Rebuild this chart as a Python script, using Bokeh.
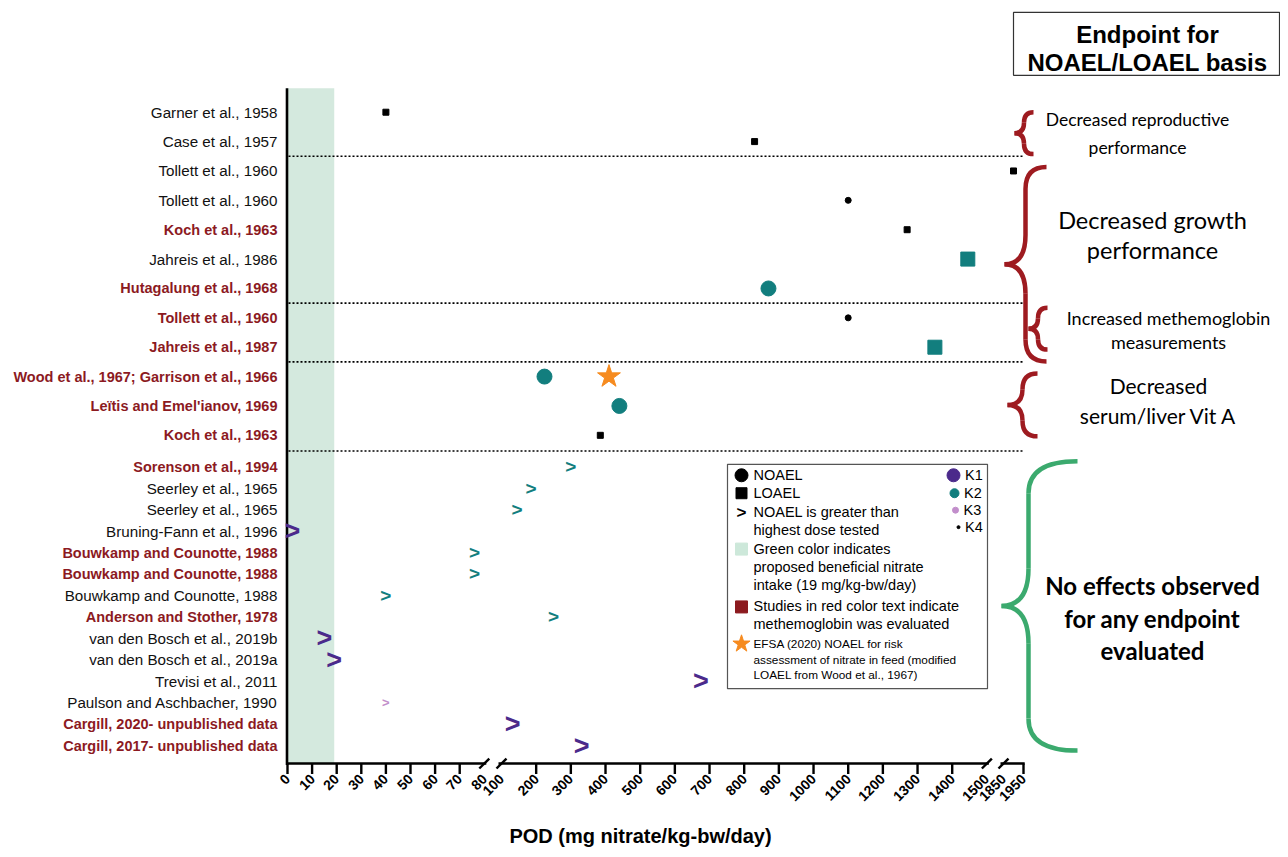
import math
from bokeh.plotting import figure
from bokeh.models import Range1d, FixedTicker, ColumnDataSource
from bokeh.core.properties import value
from bokeh.embed import file_html
from bokeh.resources import INLINE

# ---------------- data ----------------
studies = [
    "Garner et al., 1958", "Case et al., 1957", "Tollett et al., 1960", "Tollett et al., 1960",
    "Koch et al., 1963", "Jahreis et al., 1986", "Hutagalung et al., 1968", "Tollett et al., 1960",
    "Jahreis et al., 1987", "Wood et al., 1967; Garrison et al., 1966", "Leïtis and Emel'ianov, 1969",
    "Koch et al., 1963", "Sorenson et al., 1994", "Seerley et al., 1965", "Seerley et al., 1965",
    "Bruning-Fann et al., 1996", "Bouwkamp and Counotte, 1988", "Bouwkamp and Counotte, 1988",
    "Bouwkamp and Counotte, 1988", "Anderson and Stother, 1978", "van den Bosch et al., 2019b",
    "van den Bosch et al., 2019a", "Trevisi et al., 2011", "Paulson and Aschbacher, 1990",
    "Cargill, 2020- unpublished data", "Cargill, 2017- unpublished data",
]
methb_evaluated = [0, 0, 0, 0, 1, 0, 1, 1, 1, 1, 1, 1, 1, 0, 0, 0, 1, 1, 0, 1, 0, 0, 0, 0, 1, 1]
pod_values = [40, 830, 1900, 1100, 1270, 1445, 870, 1100, 1350, 224, 440, 385,
              300, 185, 145, 2, 76, 76, 40, 250, 15, 19, 675, 40, 132, 331]
pod_type = ["LOAEL", "LOAEL", "LOAEL", "NOAEL", "LOAEL", "LOAEL", "NOAEL", "NOAEL",
            "LOAEL", "NOAEL", "NOAEL", "LOAEL"] + [">"] * 14
klimisch = [4, 4, 4, 4, 4, 2, 2, 4, 2, 2, 2, 4, 2, 2, 2, 1, 2, 2, 2, 2, 1, 1, 1, 3, 1, 1]
efsa_study_index = 9
efsa_noael = 410
beneficial_intake = 19
tick_values = [0, 10, 20, 30, 40, 50, 60, 70, 80, 100, 200, 300, 400, 500, 600, 700, 800,
               900, 1000, 1100, 1200, 1300, 1400, 1500, 1850, 1950]
break_ticks = [80, 100, 1500, 1850]
section_breaks_after = [1, 6, 8, 11]

endpoints = [
    ["Decreased reproductive", "performance"],
    ["Decreased growth", "performance"],
    ["Increased methemoglobin", "measurements"],
    ["Decreased", "serum/liver Vit A"],
    ["No effects observed", "for any endpoint", "evaluated"],
]

# ---------------- styles ----------------
K_COLOR = {1: "#4B2A8B", 2: "#127E7E", 3: "#C28ECB", 4: "#000000"}
K_SIZE = {1: 14, 2: 15, 3: 6, 4: 6}
K_SIZE_SQ = {1: 14, 2: 14, 3: 6, 4: 6}
GT_FONT = {1: "27px", 2: "19px", 3: "13px"}
RED = "#8C1A1F"
BRACE_RED = "#9E1B20"
BRACE_GREEN = "#3BAA6E"
BAND = "#D4E9DE"
FONT = "Liberation Sans"
RFONT = "Lato"

# broken x-scale (three pieces)
def xt(v):
    if v <= 90:
        return v * 2.46
    if v <= 1600:
        return 214 + (v - 100) * 0.3467
    return 716 + (v - 1850) * 0.2

X0 = 287.0
ROW0 = 112.0
ROWPX = 29.45

def px(xp):
    return xp - X0

def py(yp):
    return (yp - ROW0) / ROWPX

rows = [i if i < 12 else 12.07 + (i - 12) * 0.73 for i in range(len(studies))]

W, H = 1280, 849
FRAME_BOTTOM = 776
p = figure(width=W, height=H, output_backend="svg", toolbar_location=None,
           x_range=Range1d(px(0), px(W)), y_range=Range1d(py(FRAME_BOTTOM), py(0)),
           y_axis_location=None, min_border_left=0, min_border_right=0,
           min_border_top=0, min_border_bottom=H - FRAME_BOTTOM)
p.grid.visible = False
p.outline_line_color = None
p.background_fill_color = "white"

# beneficial band
p.quad(left=[xt(0)], right=[xt(beneficial_intake)], top=[py(88)], bottom=[py(765)],
       fill_color=BAND, line_color=None)

# dotted section lines
sep_y = [(rows[i] + rows[i + 1]) / 2 for i in section_breaks_after]
p.segment(x0=[1] * len(sep_y), x1=[xt(1950)] * len(sep_y), y0=sep_y, y1=sep_y,
          line_color="black", line_width=1.6, line_dash="2 2")

# axis lines (drawn), with breaks
yax = py(765)
p.segment(x0=[-0.5], x1=[-0.5], y0=[py(88)], y1=[py(766.5)], line_color="black", line_width=2.6)
seg_x0 = [xt(0) - 1.5, xt(100) - 3, xt(1850) - 3]
seg_x1 = [xt(80) + 2, xt(1500) + 2, xt(1950) + 1.2]
p.segment(x0=seg_x0, x1=seg_x1, y0=[yax] * 3, y1=[yax] * 3, line_color="black", line_width=2.6)
bx = [xt(b) for b in break_ticks]
p.segment(x0=[b - 5 for b in bx], x1=[b + 5 for b in bx],
          y0=[yax + 5 / ROWPX] * 4, y1=[yax - 5 / ROWPX] * 4, line_color="black", line_width=2.4)
tick_marks = [xt(t) for t in tick_values if t not in break_ticks]
p.segment(x0=tick_marks, x1=tick_marks, y0=[yax] * len(tick_marks), y1=[py(775.5)] * len(tick_marks),
          line_color="black", line_width=2.4)

# x axis labels
tick_pos = [int(round(xt(t))) for t in tick_values]
ax = p.xaxis[0]
ax.ticker = FixedTicker(ticks=tick_pos, minor_ticks=[])
ax.major_label_overrides = {tp: str(t) for tp, t in zip(tick_pos, tick_values)}
ax.major_label_orientation = math.pi / 4
ax.axis_line_color = None
ax.major_tick_line_color = None
ax.minor_tick_line_color = None
ax.major_tick_in = 0
ax.major_tick_out = 0
ax.major_label_standoff = 2
ax.major_label_text_font = FONT
ax.major_label_text_font_style = "bold"
ax.major_label_text_font_size = "14px"
ax.major_label_text_color = "black"
ax.axis_label = "POD (mg nitrate/kg-bw/day)"
ax.axis_label_text_font = FONT
ax.axis_label_text_font_style = "bold"
ax.axis_label_text_font_size = "20px"
ax.axis_label_text_color = "black"
ax.axis_label_standoff = 16

# study labels
blk = [i for i in range(len(studies)) if not methb_evaluated[i]]
red = [i for i in range(len(studies)) if methb_evaluated[i]]
p.text(x=[px(277)] * len(blk), y=[rows[i] for i in blk], text=[studies[i] for i in blk],
       text_align="right", text_baseline="middle", text_font=value(FONT),
       text_font_size="15.2px", text_color="#111111")
p.text(x=[px(277)] * len(red), y=[rows[i] for i in red], text=[studies[i] for i in red],
       text_align="right", text_baseline="middle", text_font=value(FONT),
       text_font_size="14.5px", text_font_style="bold", text_color=RED)

# point markers
pts = [i for i in range(len(studies)) if pod_type[i] != ">"]
src = ColumnDataSource(dict(
    x=[xt(pod_values[i]) for i in pts],
    y=[rows[i] for i in pts],
    marker=["square" if pod_type[i] == "LOAEL" else "circle" for i in pts],
    size=[K_SIZE_SQ[klimisch[i]] if pod_type[i] == "LOAEL" else K_SIZE[klimisch[i]] for i in pts],
    color=[K_COLOR[klimisch[i]] for i in pts],
))
p.scatter(x="x", y="y", marker="marker", size="size", fill_color="color", line_color="color",
          source=src)
p.scatter(x=[xt(efsa_noael)], y=[rows[efsa_study_index]], marker="star", size=24,
          fill_color="#F68B1F", line_color="#F68B1F")

# ">" markers
for k in (1, 2, 3):
    idx = [i for i in range(len(studies)) if pod_type[i] == ">" and klimisch[i] == k]
    p.text(x=[xt(pod_values[i]) for i in idx], y=[rows[i] for i in idx], text=[">"] * len(idx),
           text_align="center", text_baseline="middle", text_font=value(FONT),
           text_font_style="bold", text_font_size=GT_FONT[k], text_color=K_COLOR[k])

# ---------------- legend box ----------------
p.quad(left=[px(727)], right=[px(987)], top=[py(465)], bottom=[py(690)],
       fill_color="white", line_color="#555555", line_width=1.2)
p.scatter(x=[px(741)], y=[py(476)], marker="circle", size=13, color="black")
p.scatter(x=[px(741)], y=[py(494)], marker="square", size=11, color="black")
p.text(x=[px(741)], y=[py(513)], text=[">"], text_align="center", text_baseline="middle",
       text_font=value(FONT), text_font_style="bold", text_font_size="17px", text_color="black")
p.scatter(x=[px(741)], y=[py(550)], marker="square", size=12, color="#CDE8DA")
p.scatter(x=[px(741)], y=[py(608)], marker="square", size=12, color=RED)
p.scatter(x=[px(741)], y=[py(645)], marker="star", size=18, color="#F68B1F")
leg_lines = ["NOAEL", "LOAEL", "NOAEL is greater than", "highest dose tested",
             "Green color indicates", "proposed beneficial nitrate", "intake (19 mg/kg-bw/day)",
             "Studies in red color text indicate", "methemoglobin was evaluated"]
leg_y = [476, 494, 513, 531, 550, 568, 586, 607, 625]
p.text(x=[px(753)] * len(leg_lines), y=[py(v) for v in leg_y], text=leg_lines,
       text_align="left", text_baseline="middle", text_font=value(FONT),
       text_font_size="14.5px", text_color="black")
efsa_lines = ["EFSA (2020) NOAEL for risk", "assessment of nitrate in feed (modified",
              "LOAEL from Wood et al., 1967)"]
p.text(x=[px(753)] * 3, y=[py(v) for v in (645, 661, 676)], text=efsa_lines,
       text_align="left", text_baseline="middle", text_font=value(FONT),
       text_font_size="11.8px", text_color="black")
kx = [953, 954, 955, 958]
ky = [476, 494, 511, 528]
ks = [13, 9, 6, 3]
kc = [K_COLOR[1], K_COLOR[2], K_COLOR[3], "black"]
p.scatter(x=[px(v) for v in kx], y=[py(v) for v in ky], size=ks, color=kc, marker="circle")
p.text(x=[px(v + 5 + s / 2) for v, s in zip(kx, ks)], y=[py(v) for v in ky],
       text=["K1", "K2", "K3", "K4"], text_align="left", text_baseline="middle",
       text_font=value(FONT), text_font_size="14.5px", text_color="black")

# ---------------- endpoint annotations ----------------
p.quad(left=[px(1013)], right=[px(1279)], top=[py(12)], bottom=[py(75)],
       fill_color="white", line_color="#333333", line_width=1.2)
p.text(x=[px(1147)] * 2, y=[py(34), py(62)], text=["Endpoint for", "NOAEL/LOAEL basis"],
       text_align="center", text_baseline="middle", text_font=value(FONT),
       text_font_style="bold", text_font_size="24px", text_color="black")


def brace(x_tip, x_end, y_top, y_bot, color, lw, xm=None, r=None):
    if xm is None:
        xm = (x_tip + x_end) / 2
    ym = (y_top + y_bot) / 2
    if r is None:
        r = min(x_end - xm, (y_bot - y_top) / 4) * 1.4
        r = min(r, (y_bot - y_top) / 4)
    rm = min((xm - x_tip) * 1.4, (y_bot - y_top) / 4)
    qx0 = [x_end, xm, x_tip, xm]
    qy0 = [y_top, ym - rm, ym, y_bot - r]
    qx1 = [xm, x_tip, xm, x_end]
    qy1 = [y_top + r, ym, ym + rm, y_bot]
    qcx = [xm, xm, xm, xm]
    qcy = [y_top, ym, ym, y_bot]
    p.quadratic(x0=[px(v) for v in qx0], y0=[py(v) for v in qy0],
                x1=[px(v) for v in qx1], y1=[py(v) for v in qy1],
                cx=[px(v) for v in qcx], cy=[py(v) for v in qcy],
                line_color=color, line_width=lw)
    p.segment(x0=[px(xm)] * 2, x1=[px(xm)] * 2,
              y0=[py(y_top + r), py(ym + rm)], y1=[py(ym - rm), py(y_bot - r)],
              line_color=color, line_width=lw)


brace(1014, 1033, 112, 154, BRACE_RED, 4.5)
brace(1004, 1046, 167, 362, BRACE_RED, 4.5, xm=1025, r=22)
brace(1028, 1047, 308, 350, BRACE_RED, 4.5)
brace(1007, 1037, 374, 437, BRACE_RED, 4.5)
brace(1001, 1077, 462, 752, BRACE_GREEN, 4.5, xm=1028, r=32)

def rtext(lines, cx, ys, size, bold=False):
    p.text(x=[px(cx)] * len(lines), y=[py(v) for v in ys], text=lines,
           text_align="center", text_baseline="middle", text_font=value(RFONT),
           text_font_size=size, text_font_style="bold" if bold else "normal",
           text_color="black")

rtext(endpoints[0], 1137, [119, 147], "17.5px")
rtext(endpoints[1], 1152, [220, 250], "23.5px")
rtext(endpoints[2], 1168, [318, 342], "18px")
rtext(endpoints[3], 1158, [386, 416], "21px")
rtext(endpoints[4], 1152, [587, 620, 652], "24px", bold=True)

open("out.html", "w").write(file_html(p, INLINE))
